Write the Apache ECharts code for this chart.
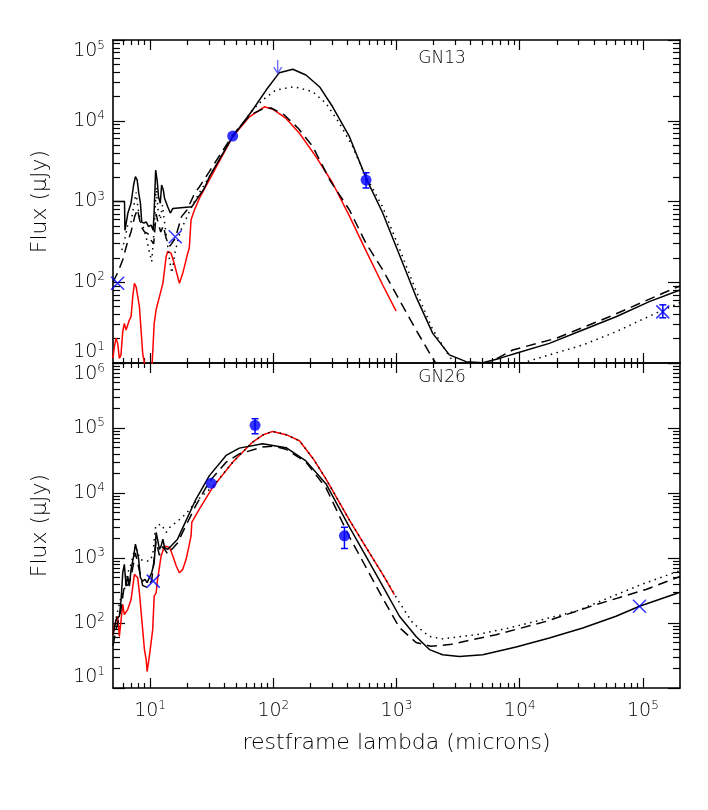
<!DOCTYPE html>
<html><head><meta charset="utf-8">
<script src="https://cdn.jsdelivr.net/npm/echarts@6/dist/echarts.min.js"></script>
<style>html,body{margin:0;padding:0;background:#fff}#c{width:708px;height:810px}</style>
</head><body><div id="c"></div>
<script>
// ---------- tick values ----------
const xMajor = [10, 100, 1000, 10000, 100000];
const xMinor = [6,7,8,9, 20,30,40,50,60,70,80,90, 200,300,400,500,600,700,800,900,
  2000,3000,4000,5000,6000,7000,8000,9000, 20000,30000,40000,50000,60000,70000,80000,90000];
const yMajorTop = [10, 100, 1000, 10000, 100000];
const yMinorTop = [20,30,40,50,60,70,80,90, 200,300,400,500,600,700,800,900,
  2000,3000,4000,5000,6000,7000,8000,9000, 20000,30000,40000,50000,60000,70000,80000,90000];
const yMajorBot = [10, 100, 1000, 10000, 100000, 1000000];
const yMinorBot = yMinorTop.concat([200000,300000,400000,500000,600000,700000,800000,900000]);

// ---------- GN13 ----------
const gn13Red = [[5,11.5],[5.13,15.9],[5.29,20.2],[5.46,17.5],[5.63,11.4],[5.8,12.6],[6.0,24.5],[6.18,31],[6.38,25.6],[6.79,34.1],[7.01,37.5],[7.23,66],[7.46,97],[7.7,88],[8.19,50],[8.71,13.2],[8.99,10],[9.4,5],[10.0,5],[10.4,10],[10.8,31],[11.2,46],[11.5,43.5],[11.9,66],[12.7,97],[13.5,208],[13.9,240],[14.3,250],[14.8,229],[15.7,171],[17.3,97],[18.4,129],[19.6,188],[20.2,229],[20.8,264],[21.5,593],[22.9,785],[25.1,1090],[46.8,6350],[64,11200],[84.7,14900],[98.9,13900],[127,10700],[163,7000],[222,3590],[303,1695],[415,660],[566,245],[773,92.5],[993,44]];
const gn13Solid = [[5,1000],[6.2,1000],[6.25,440],[6.6,715],[7.0,950],[7.35,1600],[7.6,2030],[7.85,1850],[8.1,1260],[8.35,950],[8.55,560],[8.9,540],[9.3,560],[9.7,490],[10.2,510],[10.6,440],[10.8,790],[11.1,2450],[11.4,1850],[11.7,1150],[12.1,950],[12.4,1600],[12.8,1390],[13.1,1100],[13.4,1150],[13.9,860],[14.6,720],[15.3,820],[21.8,860],[24.3,1100],[27.6,1460],[30.3,2030],[46.8,6350],[68,13600],[87.5,24000],[112,39400],[144,43400],[184,36900],[237,26400],[303,14900],[415,6350],[566,1950],[773,720],[1057,218],[1442,66],[1968,23.3],[2687,12.6],[3670,10.4],[5010,10.1],[6840,11.4],[9350,13.2],[17400,17.5],[32500,25.6],[60500,37.4],[112700,57.5],[200000,80]];
const gn13Dashed = [[5,100],[5.5,135],[6.0,190],[6.5,300],[7.0,420],[7.5,650],[7.9,800],[8.4,500],[9.0,420],[9.6,400],[10.2,330],[10.7,300],[11.2,700],[11.6,550],[12.2,420],[12.8,500],[13.5,350],[14.5,280],[16,350],[18,650],[20,790],[23,1270],[25,1500],[30,2300],[47,6700],[65,11800],[82,14000],[96,14400],[123,11800],[160,8000],[209,4800],[290,1800],[415,785],[566,303],[773,142],[1057,60],[1442,25.6],[1968,11.4],[2300,8],[3000,6],[4200,7],[5200,9],[6300,11],[8770,14.5],[19700,20.2],[53400,37.4],[145000,73],[200000,90]];
const gn13Dotted = [[5.9,250],[6.2,330],[6.6,520],[7.0,560],[7.4,900],[7.7,1300],[8.0,800],[8.4,550],[8.8,480],[9.3,360],[9.8,250],[10.3,180],[10.8,450],[11.2,1500],[11.6,800],[12.1,600],[12.6,900],[13.1,550],[13.6,360],[14.3,200],[15,130],[16,240],[17.5,420],[19.5,600],[22,900],[26,1400],[30.3,2030],[46.8,6350],[68,13600],[82,18100],[105,24000],[148,26400],[209,22900],[268,16400],[344,9300],[441,4780],[532,2455],[773,850],[1057,260],[1442,78],[1968,26],[2687,12],[3200,9],[4500,7.5],[7000,8.2],[10500,10],[17400,12.6],[32500,16.7],[60500,24.4],[112700,38],[200000,56]];
const gn13Dots = [[46.8,6470],[566,1845]];
const gn13Crosses = [[5.45,97],[16,366],[145000,43]];
const gn13ErrBars = [[566,1470,2270],[145000,36.3,52.5]];
const gn13Limits = [[108.6,56500,38800]];

// ---------- GN26 ----------
const gn26Red = [[5,66],[5.13,89],[5.46,127],[5.63,62],[5.82,113],[6.0,193],[6.18,135],[6.58,161],[7.01,230],[7.46,560],[7.93,498],[8.19,292],[8.71,79],[9.0,38.8],[9.3,27.2],[9.46,17.9],[9.77,27],[10.1,43.6],[10.5,79],[10.8,259],[11.2,292],[11.5,469],[12.3,1075],[13.1,1535],[14.4,1450],[15.3,1075],[16.3,752],[17.3,594],[18.4,668],[19.6,955],[20.7,1535],[21.5,2190],[21.8,3520],[25.1,5660],[32.2,12200],[46.8,29800],[68,60800],[82,78000],[99,88600],[127,79000],[163,63700],[210,34000],[268,16400],[415,3830],[566,1460],[773,560],[961,274]];
const gn26Solid = [[5,66],[5.29,113],[5.63,127],[5.82,230],[6.0,594],[6.18,800],[6.38,369],[6.58,527],[6.79,369],[7.01,668],[7.36,1075],[7.6,1630],[7.84,1280],[8.08,955],[8.34,498],[8.71,441],[9.1,469],[9.46,417],[9.87,498],[10.3,594],[10.8,849],[11.2,2470],[11.5,1950],[11.9,1360],[12.3,1535],[12.7,1950],[13.1,1450],[13.9,1360],[14.8,1535],[16.7,1950],[19.0,3320],[23.6,8070],[30.3,18500],[41.4,37800],[53,49000],[82,57200],[127,49700],[184,31200],[268,13800],[415,2980],[566,1060],[773,369],[1057,127],[1442,62],[1850,39],[2370,32.5],[3240,30.5],[5010,32.5],[9350,42.7],[17400,58.9],[32500,84],[60500,127],[93800,181],[195000,292]];
const gn26Dashed = [[5,45],[5.3,80],[5.8,160],[6.2,400],[6.6,380],[7.0,500],[7.6,1200],[8.1,700],[8.7,380],[9.5,350],[10.3,450],[11.2,1800],[11.9,1100],[12.7,1500],[13.9,1150],[16.7,1700],[19.6,3200],[23.6,6500],[30.3,15000],[41.4,29800],[53,40000],[82,51000],[100,52700],[127,47000],[184,30000],[268,12000],[415,2100],[566,720],[773,240],[1057,85],[1442,50],[1900,44],[2690,46.5],[6430,66],[16400,106],[41700,192],[106000,328],[200000,520]];
const gn26Dotted = [[5.3,120],[5.8,250],[6.2,330],[6.6,600],[7.0,800],[7.6,1535],[8.3,955],[9.0,900],[9.9,900],[10.5,1100],[11.1,3130],[12.3,3320],[13.5,2470],[14.8,3130],[16.3,3520],[19.6,4800],[23.6,7500],[32.2,12500],[46.8,29800],[68,60800],[82,78000],[99,88600],[127,79000],[163,63700],[210,34000],[268,16400],[415,3830],[566,1460],[773,560],[1057,205],[1355,100],[1850,62],[2370,57],[4430,66],[8240,84],[28600,152],[100000,400],[200000,640]];
const gn26Dots = [[31.3,14100],[71.1,110000],[378,2190]];
const gn26Crosses = [[10.6,441],[93800,181]];
const gn26ErrBars = [[71.1,81600,139000],[378,1400,2970]];

// ---------- styling ----------
const FONT = 'DejaVu Sans';
const INK = '#000';
const BLUE = '#0000ff';
const rich = {
  b: {fontSize: 19, fontFamily: FONT, fontWeight: 200, color: INK, lineHeight: 22},
  s: {fontSize: 12, fontFamily: FONT, fontWeight: 200, color: INK, lineHeight: 12, verticalAlign: 'top'}
};
const powFmt = v => '{b|10}{s|' + Math.round(Math.log10(v)) + '}';
const frame = {show: true, onZero: false, lineStyle: {color: '#000', width: 1.6}};

function xAxes(grid, showLabels, name) {
  const base = {type: 'log', logBase: 10, gridIndex: grid, min: 5, max: 200000, splitLine: {show: false}, minorTick: {show: false}};
  return [
    Object.assign({}, base, {position: 'bottom', axisLine: frame,
      axisTick: {show: true, inside: true, length: 10, customValues: xMajor, lineStyle: {color: '#000', width: 1.2}},
      axisLabel: {show: showLabels, customValues: xMajor, formatter: powFmt, rich: rich, margin: 12},
      name: name || '', nameLocation: 'middle', nameGap: 44,
      nameTextStyle: {fontFamily: FONT, fontWeight: 200, fontSize: 22, color: INK}}),
    Object.assign({}, base, {position: 'bottom', axisLine: {show: false, onZero: false},
      axisTick: {show: true, inside: true, length: 5, customValues: xMinor, lineStyle: {color: '#000', width: 1.2}},
      axisLabel: {show: false}}),
    Object.assign({}, base, {position: 'top', axisLine: frame,
      axisTick: {show: true, inside: true, length: 10, customValues: xMajor, lineStyle: {color: '#000', width: 1.2}},
      axisLabel: {show: false}}),
    Object.assign({}, base, {position: 'top', axisLine: {show: false, onZero: false},
      axisTick: {show: true, inside: true, length: 5, customValues: xMinor, lineStyle: {color: '#000', width: 1.2}},
      axisLabel: {show: false}})
  ];
}
function yAxes(grid, ymax, major, minor) {
  const base = {type: 'log', logBase: 10, gridIndex: grid, min: 10, max: ymax, splitLine: {show: false}, minorTick: {show: false}};
  return [
    Object.assign({}, base, {position: 'left', axisLine: frame,
      axisTick: {show: true, inside: true, length: 12, customValues: major, lineStyle: {color: '#000', width: 1.2}},
      axisLabel: {show: true, customValues: major, formatter: powFmt, rich: rich, margin: 8,
        verticalAlignMinLabel: 'bottom', verticalAlignMaxLabel: 'top'},
      name: 'Flux (\u03bcJy)', nameLocation: 'middle', nameGap: 62,
      nameTextStyle: {fontFamily: FONT, fontWeight: 200, fontSize: 22, color: INK}}),
    Object.assign({}, base, {position: 'left', axisLine: {show: false, onZero: false},
      axisTick: {show: true, inside: true, length: 7, customValues: minor, lineStyle: {color: '#000', width: 1.2}},
      axisLabel: {show: false}}),
    Object.assign({}, base, {position: 'right', axisLine: frame,
      axisTick: {show: true, inside: true, length: 12, customValues: major, lineStyle: {color: '#000', width: 1.2}},
      axisLabel: {show: false}}),
    Object.assign({}, base, {position: 'right', axisLine: {show: false, onZero: false},
      axisTick: {show: true, inside: true, length: 7, customValues: minor, lineStyle: {color: '#000', width: 1.2}},
      axisLabel: {show: false}})
  ];
}

function line(data, xi, yi, color, type) {
  return {type: 'line', xAxisIndex: xi, yAxisIndex: yi, data: data, showSymbol: false, symbol: 'none',
    lineStyle: {color: color, width: 1.5, type: type, cap: 'butt'}, silent: true, animation: false, z: 2};
}
function dots(data, xi, yi) {
  return {type: 'scatter', xAxisIndex: xi, yAxisIndex: yi, data: data, symbol: 'circle', symbolSize: 11,
    itemStyle: {color: BLUE}, silent: true, animation: false, z: 6};
}
function crosses(data, xi, yi) {
  return {type: 'scatter', xAxisIndex: xi, yAxisIndex: yi, data: data, symbol: 'path://M0,0L10,10M10,0L0,10', symbolSize: 13,
    itemStyle: {color: 'rgba(0,0,0,0)', borderColor: BLUE, borderWidth: 1.5}, silent: true, animation: false, z: 6};
}
function errBars(data, xi, yi) {
  return {type: 'custom', xAxisIndex: xi, yAxisIndex: yi, data: data, encode: {x: 0, y: [1, 2]}, silent: true, animation: false, z: 7,
    renderItem: function (params, api) {
      const x = api.value(0);
      const a = api.coord([x, api.value(1)]);
      const b = api.coord([x, api.value(2)]);
      const w = 3.5, st = {stroke: BLUE, lineWidth: 1.5};
      return {type: 'group', children: [
        {type: 'line', shape: {x1: a[0], y1: a[1], x2: b[0], y2: b[1]}, style: st},
        {type: 'line', shape: {x1: a[0] - w, y1: a[1], x2: a[0] + w, y2: a[1]}, style: st},
        {type: 'line', shape: {x1: b[0] - w, y1: b[1], x2: b[0] + w, y2: b[1]}, style: st}
      ]};
    }};
}
function limits(data, xi, yi) {
  return {type: 'custom', xAxisIndex: xi, yAxisIndex: yi, data: data, encode: {x: 0, y: [1, 2]}, silent: true, animation: false, z: 7,
    renderItem: function (params, api) {
      const x = api.value(0);
      const t = api.coord([x, api.value(1)]);
      const b = api.coord([x, api.value(2)]);
      const st = {stroke: '#5a5aff', lineWidth: 1.2};
      return {type: 'group', children: [
        {type: 'line', shape: {x1: t[0], y1: t[1], x2: b[0], y2: b[1]}, style: st},
        {type: 'polyline', shape: {points: [[b[0] - 4, b[1] - 6], [b[0], b[1]], [b[0] + 4, b[1] - 6]]}, style: Object.assign({fill: null}, st)}
      ]};
    }};
}

const option = {
  backgroundColor: '#fff',
  animation: false,
  grid: [
    {left: 113, top: 40, width: 567, height: 323, containLabel: false},
    {left: 113, top: 363, width: 567, height: 325, containLabel: false}
  ],
  xAxis: [].concat(xAxes(0, false), xAxes(1, true, 'restframe lambda (microns)')),
  yAxis: [].concat(yAxes(0, 100000, yMajorTop, yMinorTop), yAxes(1, 1000000, yMajorBot, yMinorBot)),
  graphic: [
    {type: 'text', x: 442, y: 59, style: {text: 'GN13', fontFamily: FONT, fontWeight: 200, fontSize: 17, fill: INK, align: 'center', verticalAlign: 'middle'}, z: 10},
    {type: 'text', x: 442, y: 378, style: {text: 'GN26', fontFamily: FONT, fontWeight: 200, fontSize: 17, fill: INK, align: 'center', verticalAlign: 'middle'}, z: 10}
  ],
  series: [
    line(gn13Red, 0, 0, '#ff0000', 'solid'),
    line(gn13Dotted, 0, 0, '#000', [1.5, 4.5]),
    line(gn13Dashed, 0, 0, '#000', [10, 6]),
    line(gn13Solid, 0, 0, '#000', 'solid'),
    dots(gn13Dots, 0, 0),
    crosses(gn13Crosses, 0, 0),
    errBars(gn13ErrBars, 0, 0),
    limits(gn13Limits, 0, 0),
    line(gn26Red, 4, 4, '#ff0000', 'solid'),
    line(gn26Dotted, 4, 4, '#000', [1.5, 4.5]),
    line(gn26Dashed, 4, 4, '#000', [10, 6]),
    line(gn26Solid, 4, 4, '#000', 'solid'),
    dots(gn26Dots, 4, 4),
    crosses(gn26Crosses, 4, 4),
    errBars(gn26ErrBars, 4, 4)
  ]
};
const chart = echarts.init(document.getElementById('c'), null, {renderer: 'canvas'});
chart.setOption(option);
</script>
</body></html>
